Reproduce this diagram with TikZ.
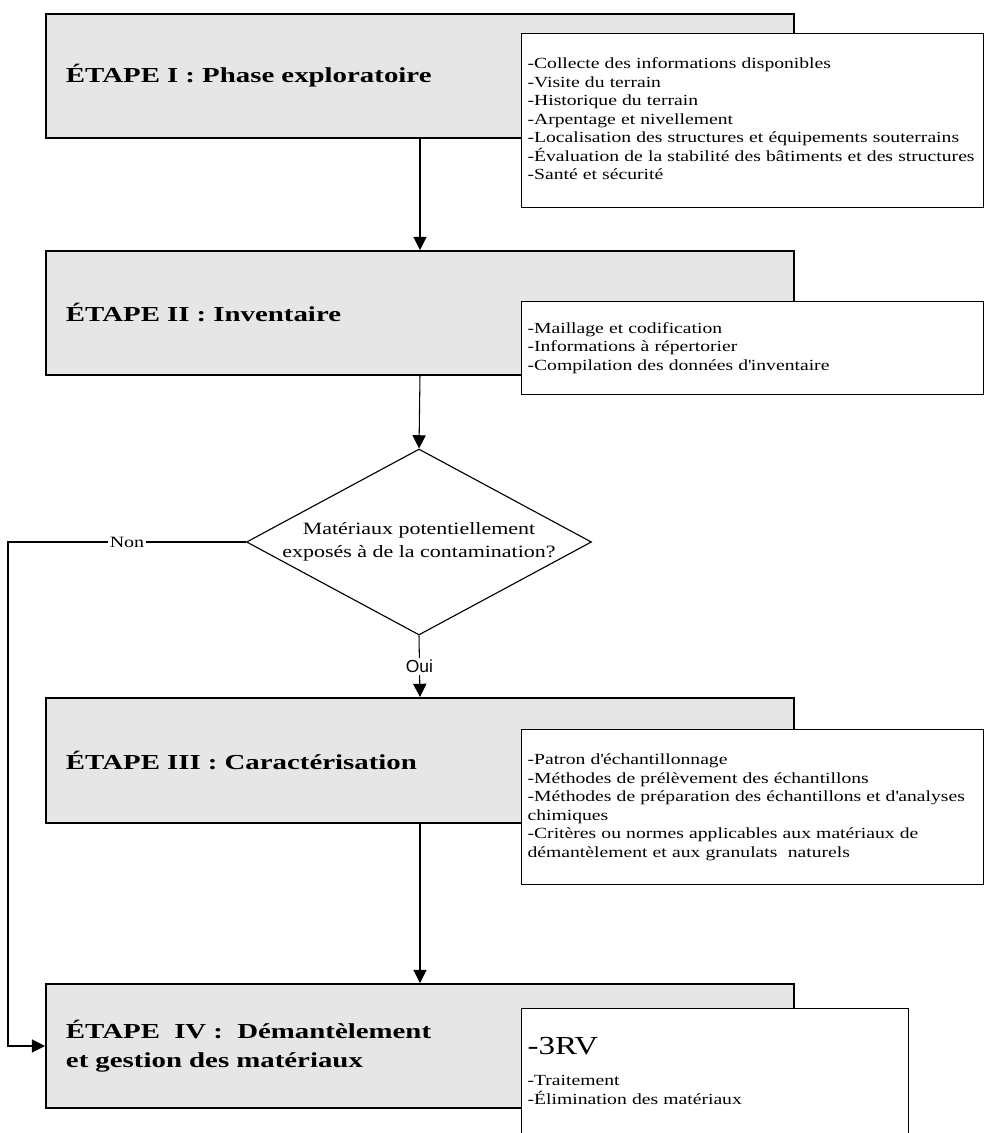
\documentclass[tikz,border=0pt]{standalone}
\usepackage{fontspec}
\setmainfont{Liberation Serif}[FakeStretch=1.27]
\newfontfamily\titlefont{Liberation Serif}[FakeStretch=1.35]
\newfontfamily\labelsans{Liberation Sans}
\usetikzlibrary{arrows.meta,shapes.geometric}
\definecolor{stepgray}{HTML}{E6E6E6}
\tikzset{
  stepbox/.style  = {draw,line width=1.4pt,fill=stepgray,anchor=north west,
                     minimum width=18.7cm,minimum height=3.1cm,inner xsep=0.5cm,
                     text width=17.7cm,align=left,
                     font=\titlefont\bfseries\fontsize{15.2}{20.6}\selectfont},
  infobox/.style  = {draw,line width=0.8pt,fill=white,anchor=north west,
                     minimum width=11.55cm,inner xsep=0.15cm,text width=11.25cm,
                     align=left,font=\fontsize{11}{13.16}\selectfont},
  decision/.style = {diamond,draw,line width=0.8pt,fill=white,aspect=1.85,
                     minimum width=8.625cm,minimum height=4.65cm,inner sep=0pt,
                     align=center,font=\fontsize{12.3}{16.1}\selectfont},
  conn/.style     = {-{Triangle[length=0.33cm,width=0.33cm]},line width=0.75pt},
  lbl/.style      = {fill=white,inner sep=1.5pt,font=\fontsize{11.2}{13}\selectfont},
}
\newcommand{\infolist}[1]{\begin{tabular}{@{}l@{}}#1\end{tabular}}
\newcommand{\apos}{\textquotesingle}

\begin{document}
\begin{tikzpicture}
  \useasboundingbox (0,0) rectangle (24.6,-28.325);
  % etapes
  \node[stepbox] (e1) at (1.125,-0.325) {ÉTAPE I : Phase exploratoire};
  \node[stepbox] (e2) at (1.125,-6.25) {ÉTAPE II : Inventaire};
  \node[stepbox,minimum height=3.125cm] (e3) at (1.125,-17.425)
       {ÉTAPE III : Caractérisation};
  \node[stepbox] (e4) at (1.125,-24.575)
       {ÉTAPE~ IV :~ Démantèlement\\et gestion des matériaux};
  % listes
  \node[infobox,minimum height=4.35cm] (l1) at (13.025,-0.825) {\infolist{%
    -Collecte des informations disponibles\\
    -Visite du terrain\\
    -Historique du terrain\\
    -Arpentage et nivellement\\
    -Localisation des structures et équipements souterrains\\
    -Évaluation de la stabilité des bâtiments et des structures\\
    -Santé et sécurité}};
  \node[infobox,minimum height=2.325cm] (l2) at (13.025,-7.525) {\infolist{%
    -Maillage et codification\\
    -Informations à répertorier\\
    -Compilation des données d\apos inventaire}};
  \node[infobox,minimum height=3.875cm] (l3) at (13.025,-18.225) {\infolist{%
    -Patron d\apos échantillonnage\\
    -Méthodes de prélèvement des échantillons\\
    -Méthodes de préparation des échantillons et d\apos analyses\\
    chimiques\\
    -Critères ou normes applicables aux matériaux de\\
    démantèlement et aux granulats\ \ naturels}};
  \node[infobox,minimum width=9.675cm,text width=9.375cm,minimum height=3.25cm]
       (l4) at (13.025,-25.2) {\infolist{%
    {\fontsize{18.5}{22}\selectfont -3RV}\\[9.5pt]
    -Traitement\\
    -Élimination des matériaux}};
  % decision
  \node[decision] (q) at (10.475,-13.55)
       {Matériaux potentiellement\\exposés à de la contamination?};
  \coordinate (ret) at (0.2,-13.55);
  % liens
  \draw[conn] (e1.south) -- (e2.north);
  \draw[conn] (e2.south) -- (q.north);
  \draw[conn] (q.south) -- node[lbl,font=\labelsans\fontsize{12.4}{14}\selectfont]{Oui} (e3.north);
  \draw[conn] (e3.south) -- (e4.north);
  \draw[conn] (q.west) -- node[lbl]{Non} (ret) |- (e4.west);
\end{tikzpicture}
\end{document}
